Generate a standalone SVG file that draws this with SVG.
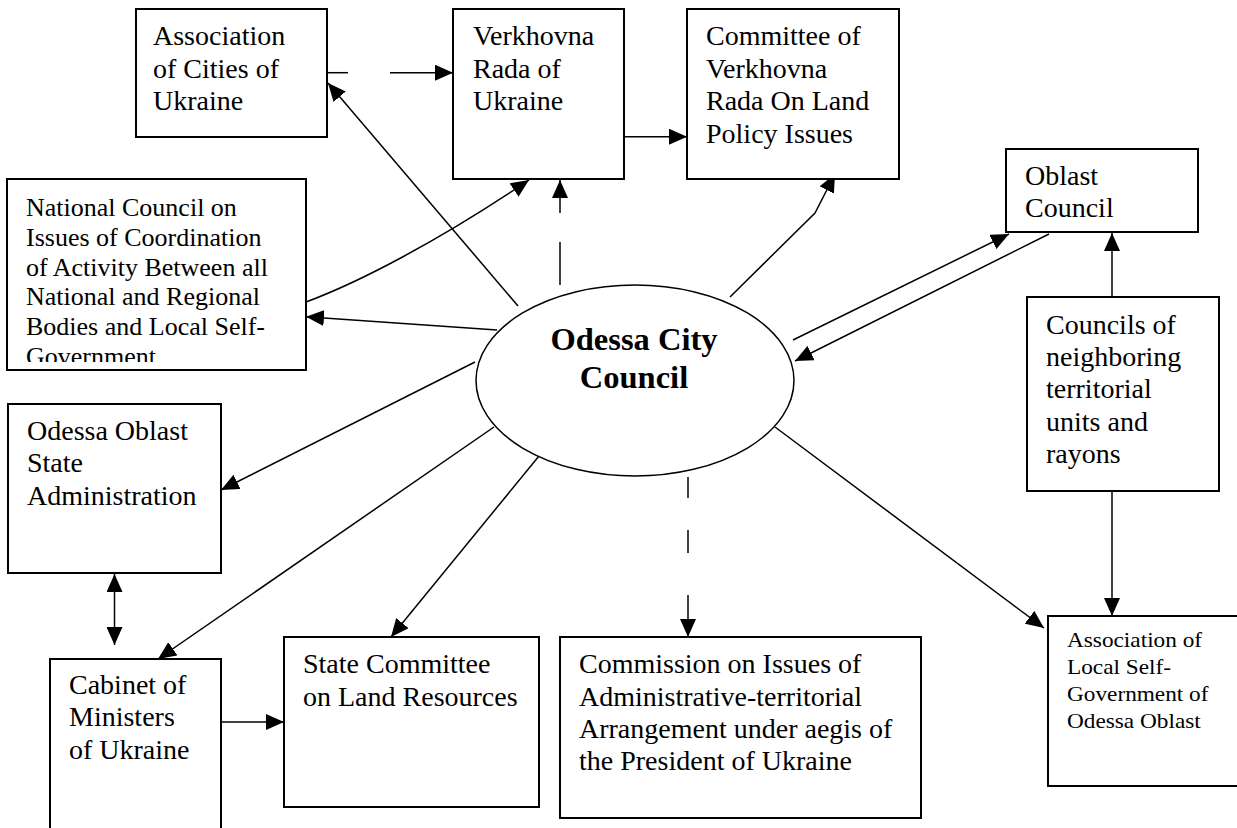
<svg xmlns="http://www.w3.org/2000/svg" width="1237" height="828" viewBox="0 0 1237 828">
<style>
  .box { fill: #fff; stroke: #000; stroke-width: 2; }
  .t { font-family: "Liberation Serif", "Times New Roman", serif; font-size: 28px; fill: #000; }
  .t26 { font-family: "Liberation Serif", "Times New Roman", serif; font-size: 26px; fill: #000; }
  .ts { font-family: "Liberation Serif", "Times New Roman", serif; font-size: 20.6px; fill: #000; }
  .tb { font-family: "Liberation Serif", "Times New Roman", serif; font-size: 32.5px; font-weight: bold; fill: #000; text-anchor: middle; }
  .c { fill: none; stroke: #000; stroke-width: 1.5; }
  .a { marker-end: url(#arr); }
</style>
<defs>
  <marker id="arr" markerUnits="userSpaceOnUse" markerWidth="18" markerHeight="16" refX="18" refY="8" orient="auto-start-reverse" viewBox="0 0 18 16">
    <path d="M0,0 L18,8 L0,16 z" fill="#000"/>
  </marker>
  <clipPath id="ncclip"><rect x="7" y="179" width="299" height="183"/></clipPath>
</defs>
<rect width="1237" height="828" fill="#fff"/>

<g id="connectors">
  <line class="c" x1="327" y1="72.7" x2="348" y2="72.7"/>
  <line class="c a" x1="390" y1="72.7" x2="453" y2="72.7"/>
  <line class="c a" x1="624" y1="136.7" x2="687" y2="136.7"/>
  <line class="c a" x1="518" y1="306" x2="328" y2="83"/>
  <path class="c a" d="M306,302 C360,282 440,240 529,180"/>
  <line class="c" x1="560" y1="285" x2="560" y2="242"/>
  <line class="c a" x1="560" y1="213" x2="560" y2="180"/>
  <polyline class="c a" points="730,297 815,213 835,174"/>
  <line class="c a" x1="497" y1="330" x2="306" y2="316.7"/>
  <line class="c a" x1="793" y1="340" x2="1009" y2="234"/>
  <line class="c a" x1="1049" y1="234" x2="795" y2="361"/>
  <line class="c a" x1="1112" y1="297" x2="1112" y2="233"/>
  <line class="c a" x1="1112" y1="491" x2="1112" y2="616"/>
  <line class="c a" x1="475" y1="362" x2="221" y2="490"/>
  <line class="c a" x1="494" y1="427" x2="158" y2="659"/>
  <line class="c a" x1="539" y1="456" x2="391" y2="637"/>
  <line class="c" x1="688" y1="477" x2="688" y2="498"/>
  <line class="c" x1="688" y1="530" x2="688" y2="553"/>
  <line class="c a" x1="688" y1="595" x2="688" y2="637"/>
  <line class="c a" x1="775" y1="427" x2="1044" y2="628"/>
  <line class="c" x1="114.5" y1="574" x2="114.5" y2="645" marker-start="url(#arr)" marker-end="url(#arr)"/>
  <line class="c a" x1="221" y1="722" x2="284" y2="722"/>
</g>

<g id="assoc-cities">
  <rect class="box" x="136" y="9" width="191" height="128"/>
  <text class="t"><tspan x="153" y="45">Association</tspan><tspan x="153" y="77.5">of Cities of</tspan><tspan x="153" y="110">Ukraine</tspan></text>
</g>

<g id="verkhovna-rada">
  <rect class="box" x="453" y="9" width="171" height="170"/>
  <text class="t"><tspan x="473" y="45">Verkhovna</tspan><tspan x="473" y="77.5">Rada of</tspan><tspan x="473" y="110">Ukraine</tspan></text>
</g>

<g id="committee">
  <rect class="box" x="687" y="9" width="212" height="170"/>
  <text class="t"><tspan x="706" y="45">Committee of</tspan><tspan x="706" y="77.5">Verkhovna</tspan><tspan x="706" y="110">Rada On Land</tspan><tspan x="706" y="142.5">Policy Issues</tspan></text>
</g>

<g id="oblast-council">
  <rect class="box" x="1006" y="149" width="192" height="83"/>
  <text class="t"><tspan x="1025" y="185">Oblast</tspan><tspan x="1025" y="216.5">Council</tspan></text>
</g>

<g id="councils-neighboring">
  <rect class="box" x="1027" y="297" width="192" height="194"/>
  <text class="t"><tspan x="1046" y="333.5">Councils of</tspan><tspan x="1046" y="365.5">neighboring</tspan><tspan x="1046" y="398">territorial</tspan><tspan x="1046" y="430.5">units and</tspan><tspan x="1046" y="462.7">rayons</tspan></text>
</g>

<g id="national-council">
  <rect class="box" x="7" y="179" width="299" height="191"/>
  <text class="t26" clip-path="url(#ncclip)"><tspan x="26" y="216">National Council on</tspan><tspan x="26" y="245.8">Issues of Coordination</tspan><tspan x="26" y="275.6">of Activity Between all</tspan><tspan x="26" y="305.4">National and Regional</tspan><tspan x="26" y="335.2">Bodies and Local Self-</tspan><tspan x="26" y="365">Government</tspan></text>
</g>

<g id="odessa-city-council">
  <ellipse cx="635" cy="380.5" rx="159" ry="95.5" fill="#fff" stroke="#000" stroke-width="1.5"/>
  <text class="tb"><tspan x="634" y="350">Odessa City</tspan><tspan x="634" y="387.7">Council</tspan></text>
</g>

<g id="odessa-oblast-admin">
  <rect class="box" x="8" y="404" width="213" height="169"/>
  <text class="t"><tspan x="27" y="440">Odessa Oblast</tspan><tspan x="27" y="472">State</tspan><tspan x="27" y="504.5">Administration</tspan></text>
</g>

<g id="cabinet">
  <rect class="box" x="50" y="659" width="171" height="200"/>
  <text class="t"><tspan x="69" y="694">Cabinet of</tspan><tspan x="69" y="726.3">Ministers</tspan><tspan x="69" y="758.5">of Ukraine</tspan></text>
</g>

<g id="state-committee">
  <rect class="box" x="284" y="637" width="255" height="170"/>
  <text class="t"><tspan x="303" y="673.3">State Committee</tspan><tspan x="303" y="705.5">on Land Resources</tspan></text>
</g>

<g id="commission">
  <rect class="box" x="560" y="637" width="361" height="181"/>
  <text class="t"><tspan x="579" y="673.3">Commission on Issues of</tspan><tspan x="579" y="705.5">Administrative-territorial</tspan><tspan x="579" y="738">Arrangement under aegis of</tspan><tspan x="579" y="770">the President of Ukraine</tspan></text>
</g>

<g id="assoc-local">
  <rect class="box" x="1048" y="616" width="200" height="170"/>
  <g transform="translate(1067,0) scale(1.13,1)">
    <text class="ts"><tspan x="0" y="646.7">Association of</tspan><tspan x="0" y="674">Local Self-</tspan><tspan x="0" y="701">Government of</tspan><tspan x="0" y="728.3">Odessa Oblast</tspan></text>
  </g>
</g>
</svg>
